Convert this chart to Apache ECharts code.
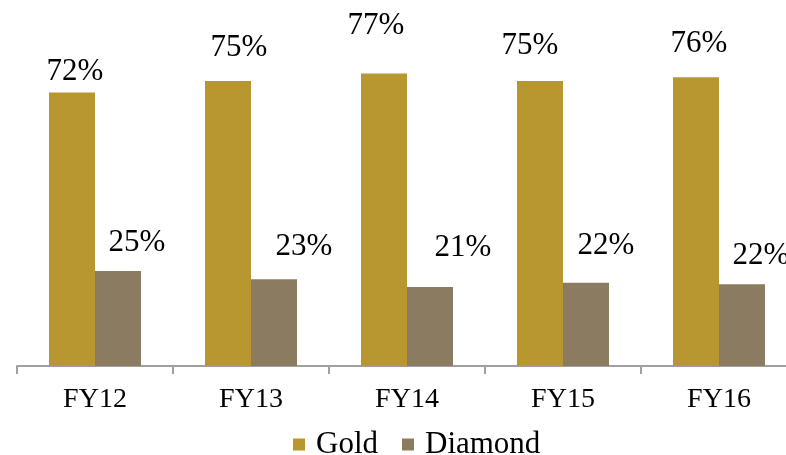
<!DOCTYPE html>
<html><head><meta charset="utf-8">
<script src="https://cdn.jsdelivr.net/npm/echarts@6/dist/echarts.min.js"></script>
<style>html,body{margin:0;padding:0;background:#fff}#c{width:786px;height:455px}</style>
</head><body><div id="c"></div>
<script>
const categories = ['FY12','FY13','FY14','FY15','FY16'];
const goldValues = [72, 75, 77, 75, 76];
const diamondValues = [25, 22.8, 20.8, 21.9, 21.5];
const seriesNames = ['Gold','Diamond'];

// label placement (style only): per-category offsets of the value labels
const goldLabelOffsets = [[3,-1],[11,-14],[-8,-28],[-10,-16],[3,-14]];
const diamondLabelOffsets = [[19,-9],[30,-13],[33,-20],[20,-17],[19,-9]];

const font = 'Liberation Serif';
const labelBase = {show: true, position: 'top', distance: 4, fontFamily: font, fontSize: 31, color: '#000',
  formatter: p => Math.round(p.value) + '%'};
function items(values, offsets) {
  return values.map((v, i) => ({value: v, label: {offset: offsets[i]}}));
}

const chart = echarts.init(document.getElementById('c'));
chart.setOption({
  animation: false,
  backgroundColor: '#fff',
  grid: {left: 17, width: 780, top: 24, height: 342, outerBoundsMode: 'none', containLabel: false},
  legend: {
    data: seriesNames, left: 288, top: 424, icon: 'rect', itemWidth: 12, itemHeight: 12, itemGap: 24,
    textStyle: {fontFamily: font, fontSize: 31, color: '#000', padding: [0,0,0,6]}
  },
  xAxis: {
    type: 'category', data: categories,
    axisLine: {lineStyle: {color: '#a0a0a0', width: 2}},
    axisTick: {show: true, length: 8, lineStyle: {color: '#a0a0a0', width: 2}},
    axisLabel: {fontFamily: font, fontSize: 28, color: '#000', margin: 20}
  },
  yAxis: {type: 'value', min: 0, max: 90, show: false, splitLine: {show: false}},
  series: [
    {name: 'Gold', type: 'bar', data: items(goldValues, goldLabelOffsets), barWidth: 46, barGap: '0%',
     itemStyle: {color: '#B89630'}, label: labelBase},
    {name: 'Diamond', type: 'bar', data: items(diamondValues, diamondLabelOffsets), barWidth: 46,
     itemStyle: {color: '#8B7B60'}, label: labelBase}
  ]
});
</script></body></html>
